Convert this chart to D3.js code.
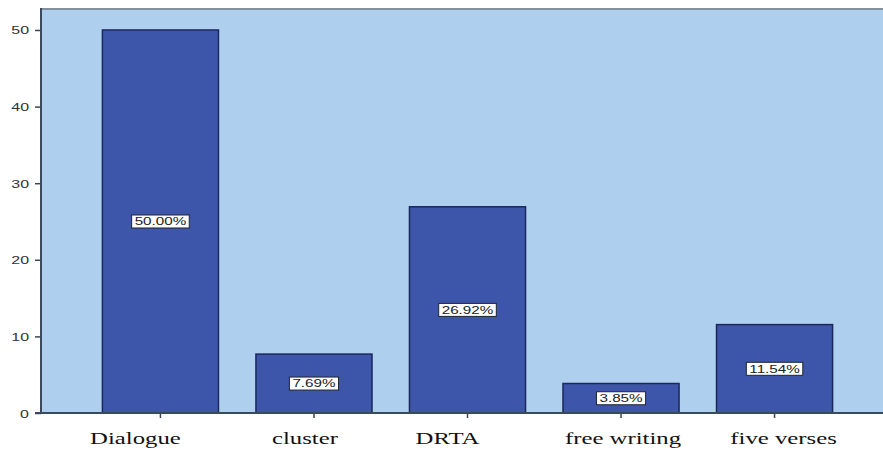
<!DOCTYPE html>
<html>
<head>
<meta charset="utf-8">
<script src="https://cdn.jsdelivr.net/npm/d3@7/dist/d3.min.js"></script>
<style>
  html, body { margin: 0; padding: 0; background: #ffffff; }
  svg { display: block; }
</style>
</head>
<body>
<div id="chart"></div>
<script>
// Share of lessons by teaching strategy (percent)
const categories = ["Dialogue", "cluster", "DRTA", "free writing", "five verses"];
const percents = [50.00, 7.69, 26.92, 3.85, 11.54];
const yTicks = [0, 10, 20, 30, 40, 50];

const W = 883, H = 450;
const plotLeft = 41, plotTop = 9, plotBottom = 413;
const stretch = 1.45;               // wide glyph look of the labels
const labelShift = [-25, -9, -20, 2, 9]; // hand-placed category label nudges (px)

const serif = "'Liberation Serif', 'Times New Roman', serif";
const sans = "'Liberation Sans', Arial, sans-serif";

const svg = d3.select("#chart").append("svg")
  .attr("width", W).attr("height", H);

const x = d3.scaleBand()
  .domain(categories)
  .range([plotLeft, 894])
  .paddingInner(0.244)
  .paddingOuter(0.4);

const y = d3.scaleLinear()
  .domain([0, 52.74])
  .range([plotBottom, plotTop]);

// plot background
svg.append("rect")
  .attr("x", plotLeft).attr("y", plotTop)
  .attr("width", W - plotLeft).attr("height", plotBottom - plotTop)
  .attr("fill", "#aecfed");

// top frame line
svg.append("line")
  .attr("x1", plotLeft).attr("x2", W)
  .attr("y1", plotTop).attr("y2", plotTop)
  .attr("stroke", "#7f909f").attr("stroke-width", 2);

// bars
svg.append("g").selectAll("rect")
  .data(categories)
  .join("rect")
  .attr("x", d => x(d))
  .attr("y", (d, i) => y(percents[i]))
  .attr("width", x.bandwidth())
  .attr("height", (d, i) => y(0) - y(percents[i]))
  .attr("fill", "#3e56a9")
  .attr("stroke", "#1b285e")
  .attr("stroke-width", 1.5);

// value labels
const lab = svg.append("g").selectAll("g")
  .data(categories)
  .join("g")
  .attr("transform", (d, i) => `translate(${x(d) + x.bandwidth() / 2},${y(percents[i] / 2)})`);

lab.each(function (d, i) {
  const g = d3.select(this);
  const box = g.append("rect")
    .attr("fill", "#ffffff")
    .attr("stroke", "#1d2430")
    .attr("stroke-width", 1);
  const t = g.append("text")
    .attr("transform", `scale(${stretch},1)`)
    .attr("text-anchor", "middle")
    .attr("dy", "0.36em")
    .style("font-family", sans)
    .style("font-size", "10.5px")
    .attr("fill", "#222")
    .text(percents[i].toFixed(2) + "%");
  const w = t.node().getComputedTextLength() * stretch + 6;
  box.attr("x", -w / 2).attr("y", -6.5).attr("width", w).attr("height", 13);
});

// y axis
const yAxis = svg.append("g")
  .attr("transform", `translate(${plotLeft},0)`)
  .call(d3.axisLeft(y).tickValues(yTicks).tickSize(6).tickPadding(0).tickFormat(d3.format("d")));
yAxis.select(".domain").remove();
yAxis.selectAll(".tick line").attr("stroke", "#3a4654").attr("stroke-width", 1.5);
yAxis.selectAll(".tick text")
  .attr("x", null).attr("dy", null)
  .attr("text-anchor", "end")
  .style("font-family", sans)
  .style("font-size", "11px")
  .attr("fill", "#333")
  .attr("transform", `translate(-12,4) scale(${stretch},1)`);

svg.append("line")
  .attr("x1", plotLeft).attr("x2", plotLeft)
  .attr("y1", plotTop - 1).attr("y2", plotBottom + 1)
  .attr("stroke", "#3a4a5c").attr("stroke-width", 2);

// x axis
const xAxis = svg.append("g")
  .attr("transform", `translate(0,${plotBottom})`)
  .call(d3.axisBottom(x).tickSize(5).tickPadding(0));
xAxis.select(".domain").remove();
xAxis.selectAll(".tick line").attr("stroke", "#3a4654").attr("stroke-width", 1.5);
xAxis.selectAll(".tick text")
  .attr("y", null).attr("dy", null)
  .attr("text-anchor", "middle")
  .style("font-family", serif)
  .style("font-size", "16.5px")
  .attr("fill", "#111")
  .attr("transform", (d, i) => `translate(${labelShift[i]},31) scale(${stretch + 0.05},1)`);

svg.append("line")
  .attr("x1", plotLeft - 6).attr("x2", W)
  .attr("y1", plotBottom).attr("y2", plotBottom)
  .attr("stroke", "#3a4a5c").attr("stroke-width", 2);
</script>
</body>
</html>
